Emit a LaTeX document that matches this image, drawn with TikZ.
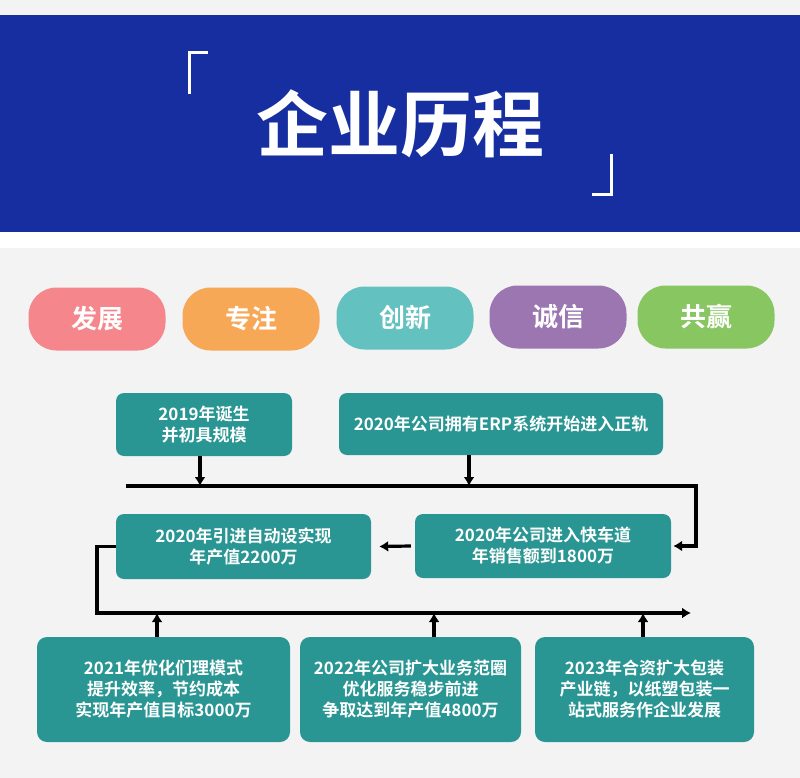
\documentclass[tikz,border=0pt]{standalone}
\usepackage{fontspec}
\newfontfamily\cjk[BoldFont={Noto Sans CJK SC Bold}]{Noto Sans CJK SC}
\usetikzlibrary{arrows.meta}

\definecolor{bandblue}{RGB}{22,46,160}
\definecolor{boxteal}{RGB}{42,150,147}
\definecolor{bggray}{RGB}{243,243,243}
\definecolor{pillpink}{RGB}{244,134,140}
\definecolor{pillorange}{RGB}{247,168,87}
\definecolor{pillteal}{RGB}{99,193,191}
\definecolor{pillpurple}{RGB}{156,118,176}
\definecolor{pillgreen}{RGB}{136,198,97}

\begin{document}
\begin{tikzpicture}[
  x=1pt, y=-1pt,
  >={Latex[length=9pt,width=11pt]},
  every node/.style={text=white},
  pill/.style={rounded corners=28pt, minimum width=137pt, minimum height=63pt, inner sep=0pt, font=\cjk\bfseries\fontsize{26}{30}\selectfont},
  box/.style={fill=boxteal, rounded corners=8pt, align=center, inner sep=0pt, font=\cjk\bfseries\fontsize{17}{21}\selectfont},
  link/.style={line width=3.2pt, black}
]
% Background
\useasboundingbox (0,0) rectangle (800,778);
\fill[bggray] (0,0) rectangle (800,15);
\fill[bandblue] (0,15) rectangle (800,232);
\fill[white] (0,232) rectangle (800,248);
\fill[bggray] (0,248) rectangle (800,778);

% Title and brackets
\draw[white, line width=3pt] (208,53) -| (189,94);
\draw[white, line width=3pt] (592,195) -| (611,154);
\node[font=\cjk\bfseries\fontsize{72}{80}\selectfont] (title) at (400,124) {企业历程};

% Value pills
\node[pill, fill=pillpink] (fazhan) at (97,319) {发展};
\node[pill, fill=pillorange] (zhuanzhu) at (251,319) {专注};
\node[pill, fill=pillteal] (chuangxin) at (405,318) {创新};
\node[pill, fill=pillpurple] (chengxin) at (558,317) {诚信};
\node[pill, fill=pillgreen] (gongying) at (706,317) {共赢};

% Top row
\node[box, minimum width=176pt, minimum height=63pt] (birth) at (204,424.5) {2019年诞生\\并初具规模};
\node[box, minimum width=324pt, minimum height=62pt] (erp) at (501,424) {2020年公司拥有ERP系统开始进入正轨};

% Middle row
\node[box, minimum width=255pt, minimum height=65pt] (output) at (243.5,546.5) {2020年引进自动设实现\\年产值2200万};
\node[box, minimum width=256pt, minimum height=64pt] (fast) at (543,546) {2020年公司进入快车道\\年销售额到1800万};

% Bottom row
\node[box, rounded corners=10pt, minimum width=253pt, minimum height=105pt] (model) at (163.5,689.5) {2021年优化们理模式\\提升效率，节约成本\\实现年产值目标3000万};
\node[box, rounded corners=10pt, minimum width=221pt, minimum height=105pt] (scope) at (410.5,689.5) {2022年公司扩大业务范圈\\优化服务稳步前进\\争取达到年产值4800万};
\node[box, rounded corners=10pt, minimum width=219pt, minimum height=105pt] (chain) at (644.5,689.5) {2023年合资扩大包装\\产业链，以纸塑包装一\\站式服务作企业发展};

% Bus lines
\coordinate (topL) at (126,486);
\coordinate (topR) at (696,486);
\coordinate (botL) at (97,613);
\coordinate (botR) at (691,613);

\draw[link, ->] ([xshift=-4pt]birth.south) -- ([xshift=-4pt]birth.south |- topL);
\draw[link, ->] ([xshift=-32pt]erp.south) -- ([xshift=-32pt]erp.south |- topL);
\draw[link, ->] (topL) -- (topR) |- ([xshift=2pt]fast.east);
\draw[link, ->] ([xshift=-4pt]fast.west) -- ([xshift=8pt]output.east);
\draw[link, ->] (output.west) -| (botL) -- (botR);

\draw[link, ->] ([xshift=-6.5pt]model.north) -- ([xshift=-6.5pt]model.north |- botL);
\draw[link, ->] ([xshift=23.5pt]scope.north) -- ([xshift=23.5pt]scope.north |- botL);
\draw[link, ->] ([xshift=-1.5pt]chain.north) -- ([xshift=-1.5pt]chain.north |- botL);
\end{tikzpicture}
\end{document}
